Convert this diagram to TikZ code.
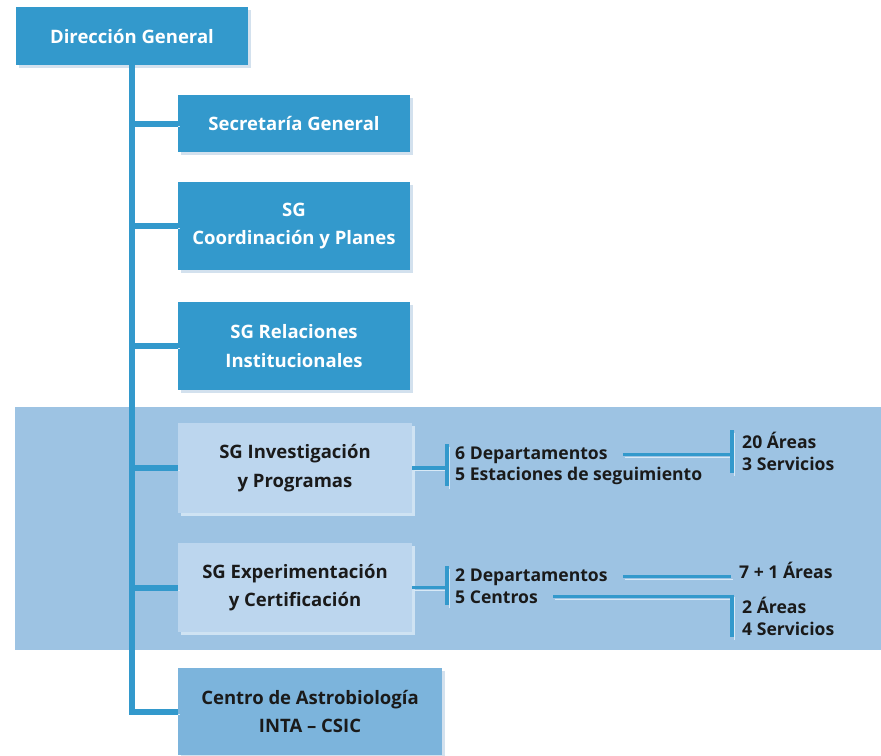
\documentclass[tikz,border=0pt]{standalone}
\usepackage{fontspec}
\setmainfont{Open Sans}
\usepackage{xcolor}
\usepackage{tikz}
\usetikzlibrary{positioning,calc,shadows}

\definecolor{dgblue}{HTML}{3399CC}
\definecolor{bandblue}{HTML}{9DC3E3}
\definecolor{subblue}{HTML}{BCD6EE}
\definecolor{cabblue}{HTML}{7CB4DC}
\definecolor{shadegray}{HTML}{D3E1EE}
\definecolor{shadeband}{HTML}{CFE3F3}
\definecolor{lineshade}{HTML}{D8E9F6}
\definecolor{inkdark}{HTML}{1A1A1A}

\tikzset{
  unitbox/.style={fill=dgblue, text=white, align=center, inner sep=0pt, minimum width=6.96cm,
    general shadow={fill=shadegray, shadow xshift=0.08cm, shadow yshift=-0.08cm}},
  subbox/.style={fill=subblue, text=inkdark, align=center, inner sep=0pt, minimum width=7.02cm,
    general shadow={fill=shadeband, shadow xshift=0.08cm, shadow yshift=-0.08cm}},
  cabbox/.style={fill=cabblue, text=inkdark, align=center, inner sep=0pt, minimum width=7.92cm,
    minimum height=2.61cm, general shadow={fill=shadegray, shadow xshift=0.08cm, shadow yshift=-0.08cm}},
  item/.style={anchor=base west, text=inkdark, inner xsep=0.24cm, inner ysep=0.06cm,
    font=\bfseries\fontsize{15}{18.5}\selectfont},
  grp/.style={anchor=west, align=left, text=inkdark, inner xsep=0.3cm, inner ysep=0.06cm,
    font=\bfseries\fontsize{15}{18.7}\selectfont},
  link/.style={dgblue, line width=0.18cm,
    preaction={draw=lineshade, transform canvas={shift={(0.08cm,-0.08cm)}}}},
  sublink/.style={dgblue, line width=0.1cm,
    preaction={draw=lineshade, transform canvas={shift={(0.06cm,-0.08cm)}}}}
}

\begin{document}
\begin{tikzpicture}[x=0.03cm, y=-0.03cm, every node/.style={font=\bfseries\fontsize{15.8}{24.5}\selectfont}]
    \useasboundingbox (0,0) rectangle (881,755);
    \fill[bandblue] (15,407) rectangle (881,650);

    \node[unitbox, minimum height=1.74cm] (dg) at (132,36) {Dirección General};
    \node[unitbox, minimum height=1.71cm] (sg) at (294,123.5) {Secretaría General};
    \node[unitbox, minimum height=2.64cm] (coord) at (294,226) {SG\\Coordinación y Planes};
    \node[unitbox, minimum height=2.64cm] (rel) at (294,346) {SG Relaciones\\Institucionales};
    \node[subbox, minimum height=2.7cm] (inv) at (295,468) {SG Investigación\\y Programas};
    \node[subbox, minimum height=2.67cm] (exp) at (295,587.5) {SG Experimentación\\y Certificación};
    \node[cabbox] (cab) at (310,711.5) {Centro de Astrobiología\\INTA – CSIC};

    % trunk and branches
    \draw[link] (dg.south) |- (cab.west);
    \foreach \n in {sg,coord,rel,inv,exp}
      \draw[link] (dg.south |- \n.west) -- (\n.west);

    % Investigacion y Programas
    \node[item] (invdep) at (447,459) {6 Departamentos};
    \node[item] (invest) at (447,480) {5 Estaciones de seguimiento};
    \node[grp] (invar) at (732,451.5) {20 Áreas\\3 Servicios};
    \draw[sublink] (inv.east) -- (inv.east -| invdep.west);
    \draw[sublink] (invdep.north west) -- (invest.south west);
    \draw[sublink] ($(invdep.east)+(7,0)$) -- (invdep.east -| invar.west);
    \draw[sublink] (invar.north west) -- (invar.south west);

    % Experimentacion y Certificacion
    \node[item] (expdep) at (447,581) {2 Departamentos};
    \node[item] (expcen) at (447,603) {5 Centros};
    \node[item] (exparea) at (731,578) {7 + 1 Áreas};
    \node[grp] (expar) at (732,616) {2 Áreas\\4 Servicios};
    \draw[sublink] (exp.east) -- (exp.east -| expdep.west);
    \draw[sublink] (expdep.north west) -- (expcen.south west);
    \draw[sublink] ($(expdep.east)+(7,0)$) -- (expdep.east -| exparea.west);
    \draw[sublink] ($(expcen.east)+(7,0)$) -- (expcen.east -| expar.west);
    \draw[sublink] (expar.north west) -- (expar.south west);
  \end{tikzpicture}
\end{document}
